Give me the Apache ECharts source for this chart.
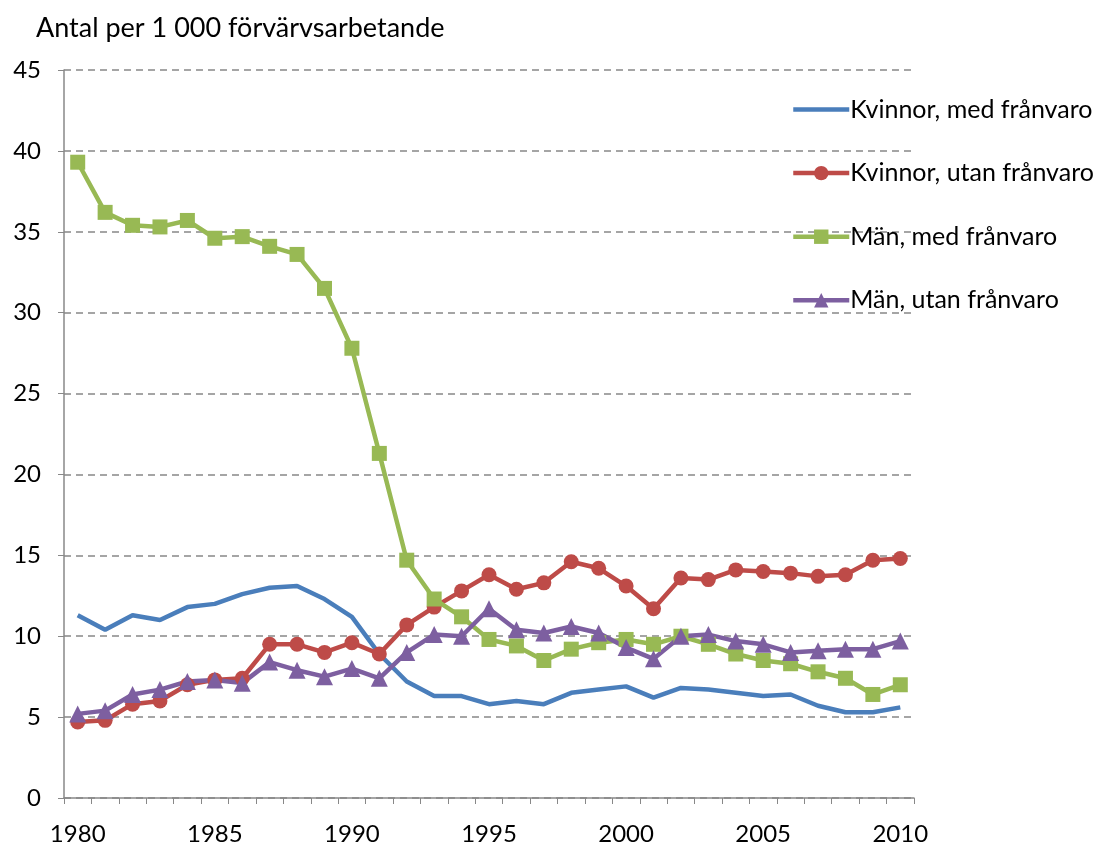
<!DOCTYPE html>
<html>
<head>
<meta charset="utf-8">
<script src="https://cdn.jsdelivr.net/npm/echarts@6/dist/echarts.min.js"></script>
<style>
  html, body { margin: 0; padding: 0; background: #fff; }
  #chart { width: 1094px; height: 846px; }
</style>
</head>
<body>
<div id="chart"></div>
<script>
// år 1980-2010
const years = [];
for (let y = 1980; y <= 2010; y++) years.push(String(y));

const kvinnorMed = [11.3, 10.4, 11.3, 11.0, 11.8, 12.0, 12.6, 13.0, 13.1, 12.3, 11.2,
  8.9, 7.2, 6.3, 6.3, 5.8, 6.0, 5.8, 6.5, 6.7, 6.9,
  6.2, 6.8, 6.7, 6.5, 6.3, 6.4, 5.7, 5.3, 5.3, 5.6];
const kvinnorUtan = [4.7, 4.8, 5.8, 6.0, 7.0, 7.3, 7.4, 9.5, 9.5, 9.0, 9.6,
  8.9, 10.7, 11.8, 12.8, 13.8, 12.9, 13.3, 14.6, 14.2, 13.1,
  11.7, 13.6, 13.5, 14.1, 14.0, 13.9, 13.7, 13.8, 14.7, 14.8];
const manMed = [39.3, 36.2, 35.4, 35.3, 35.7, 34.6, 34.7, 34.1, 33.6, 31.5, 27.8,
  21.3, 14.7, 12.3, 11.2, 9.8, 9.4, 8.5, 9.2, 9.6, 9.8,
  9.5, 10.0, 9.5, 8.9, 8.5, 8.3, 7.8, 7.4, 6.4, 7.0];
const manUtan = [5.2, 5.4, 6.4, 6.7, 7.2, 7.3, 7.1, 8.4, 7.9, 7.5, 8.0,
  7.4, 9.0, 10.1, 10.0, 11.7, 10.4, 10.2, 10.6, 10.2, 9.3,
  8.6, 10.0, 10.1, 9.7, 9.5, 9.0, 9.1, 9.2, 9.2, 9.7];

const font = 'Lato, sans-serif';
const axisGray = '#888888';

let myChart = echarts.init(document.getElementById('chart'));

function serie(name, data, color, symbol, size) {
  return {
    name: name,
    type: 'line',
    data: data,
    symbol: symbol,
    symbolSize: size,
    showSymbol: symbol !== 'none',
    lineStyle: { width: 4.5, color: color },
    itemStyle: { color: color },
    animation: false
  };
}

let option = {
  animation: false,
  title: {
    text: 'Antal per 1 000 förvärvsarbetande',
    left: 31,
    top: 10,
    textStyle: { fontFamily: font, fontSize: 27, fontWeight: 'normal', color: '#000' }
  },
  legend: {
    orient: 'vertical',
    left: 786,
    top: 92,
    itemWidth: 56,
    itemHeight: 18,
    itemGap: 38.6,
    lineStyle: { width: 4.5 },
    textStyle: { fontFamily: font, fontSize: 25, color: '#000', padding: [0, 0, 0, -4] },
    data: [
      { name: 'Kvinnor, med frånvaro', itemStyle: { opacity: 0 } },
      'Kvinnor, utan frånvaro', 'Män, med frånvaro', 'Män, utan frånvaro'
    ]
  },
  grid: { left: 64, right: 180, top: 70, bottom: 47 },
  xAxis: {
    type: 'category',
    data: years,
    boundaryGap: true,
    axisLine: { lineStyle: { color: axisGray, width: 1.5 } },
    axisTick: { show: true, interval: 0, length: 6, lineStyle: { color: axisGray } },
    axisLabel: { interval: 4, fontFamily: font, fontSize: 24, color: '#000', margin: 24 },
    splitLine: { show: false }
  },
  yAxis: {
    type: 'value',
    min: 0,
    max: 45,
    interval: 5,
    axisLine: { show: true, lineStyle: { color: axisGray, width: 1.5 } },
    axisTick: { show: true, length: 6, lineStyle: { color: axisGray } },
    axisLabel: { fontFamily: font, fontSize: 24, color: '#000', margin: 23 },
    splitLine: { lineStyle: { color: axisGray, type: [7, 5], width: 1.5 } }
  },
  series: [
    serie('Kvinnor, med frånvaro', kvinnorMed, '#4A7EBB', 'none', 0),
    serie('Kvinnor, utan frånvaro', kvinnorUtan, '#BE4B48', 'circle', 15),
    serie('Män, med frånvaro', manMed, '#98B954', 'rect', 15),
    serie('Män, utan frånvaro', manUtan, '#7D5FA0', 'triangle', 17)
  ]
};
myChart.setOption(option);
</script>
</body>
</html>
